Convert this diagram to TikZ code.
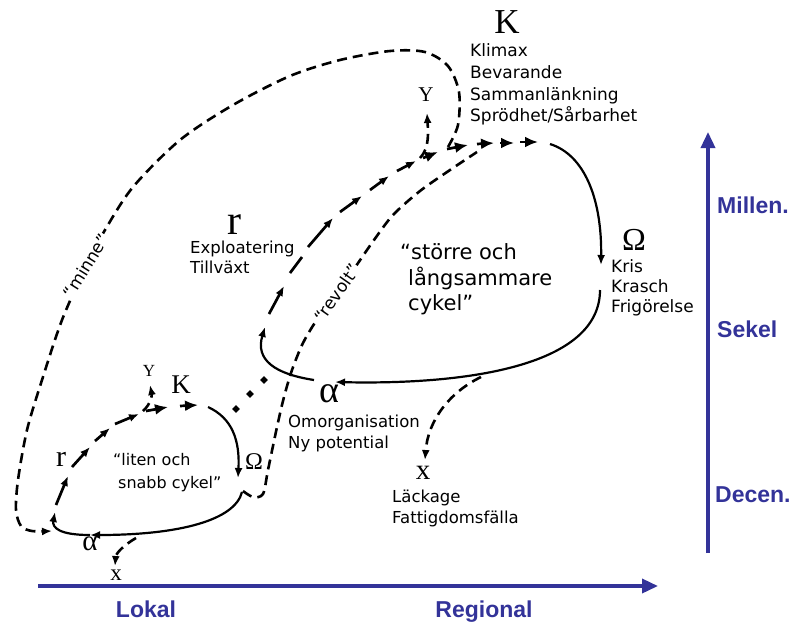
\documentclass[tikz,border=0pt]{standalone}
\usepackage{fontspec}
\setmainfont{DejaVu Sans}
\newfontfamily\serfont{Liberation Serif}
\newfontfamily\axfont{Liberation Sans}
\usetikzlibrary{arrows.meta,shapes.geometric}
\definecolor{axisblue}{RGB}{51,51,153}
\tikzset{
  sol/.style={line width=2.2pt},
  dsh/.style={line width=2.6pt, dash pattern=on 10pt off 6pt},
  seg/.style={line width=2.7pt},
  tp/.style={-{Latex[length=10pt,width=8pt]}},
  btp/.style={-{Latex[length=13pt,width=11pt]}},
  lbl/.style={inner sep=0pt, anchor=mid west, font=\fontsize{16.5}{18}\selectfont},
  klbl/.style={inner sep=0pt, anchor=mid west, font=\fontsize{17}{19}\selectfont},
  big/.style={inner sep=0pt, anchor=mid west, font=\fontsize{21}{24}\selectfont},
  sml/.style={inner sep=0pt, anchor=mid west, font=\fontsize{16}{18}\selectfont},
  rot/.style={inner sep=1pt, fill=white, anchor=center, font=\fontsize{17}{19}\selectfont},
  ser/.style={inner sep=0pt, font=\serfont},
  ax/.style={line width=3.5pt, draw=axisblue, -{Triangle[length=16pt,width=14pt]}},
  axl/.style={inner sep=0pt, text=axisblue, font=\axfont\bfseries\fontsize{23}{26}\selectfont},
  dot/.style={diamond, fill=black, inner sep=0pt, minimum size=8pt}
}
\begin{document}
\begin{tikzpicture}[x=1pt,y=-1pt]
\useasboundingbox (0,0) rectangle (793,625);
% axes
\coordinate (h0) at (38,586); \coordinate (h1) at (658,586);
\coordinate (v0) at (708,553); \coordinate (v1) at (708,132);
\draw[ax] (h0) -- (h1);
\draw[ax] (v0) -- (v1);
\node[axl] (lokal) at (146,609) {Lokal};
\node[axl] (regional) at (484,612) {Regional};
\node[axl, anchor=mid west] (millen) at (717,211) {Millen.};
\node[axl, anchor=mid west] (sekel) at (717,335) {Sekel};
\node[axl, anchor=mid west] (decen) at (715,500) {Decen.};

% ---------- big cycle ----------
\node[ser, font=\serfont\fontsize{35}{35}\selectfont] (bK) at (507,22) {K};
\node[klbl] (klimax) at (470,54) {Klimax};
\node[klbl] (bevar) at (470,76) {Bevarande};
\node[klbl] (samman) at (470,98) {Sammanlänkning};
\node[klbl] (sprod) at (470,119) {Sprödhet/Sårbarhet};
\node[ser, font=\serfont\fontsize{32}{32}\selectfont] (bO) at (634,240) {Ω};
\node[klbl] (kris) at (611,270) {Kris};
\node[klbl] (krasch) at (611,290) {Krasch};
\node[klbl] (frig) at (611,310) {Frigörelse};
\node[ser, font=\serfont\fontsize{42}{42}\selectfont] (br) at (234,225) {r};
\node[lbl] (explo) at (190,251) {Exploatering};
\node[lbl] (tillv) at (190,271) {Tillväxt};
\node[ser, font=\serfont\fontsize{38}{38}\selectfont] (ba) at (329,394) {α};
\node[lbl] (omorg) at (288,425) {Omorganisation};
\node[lbl] (nypot) at (288,446) {Ny potential};
\node[ser, font=\serfont\fontsize{29}{29}\selectfont] (bx) at (423,473) {x};
\node[lbl] (lack) at (392,500) {Läckage};
\node[lbl] (fatt) at (392,521) {Fattigdomsfälla};
\node[ser, font=\serfont\fontsize{21}{21}\selectfont] (bY) at (426,95) {Y};
\node[big] (s1) at (400,257) {\char"201Cstörre och};
\node[big] (s2) at (408,283) {långsammare};
\node[big] (s3) at (408,308) {cykel\char"201D};

% solid parts of big cycle
\coordinate (a1) at (314,380); \coordinate (a2) at (265,327);
\draw[sol,tp] (a1) .. controls (275,374) and (255,360) .. (a2);
\coordinate (k1) at (550,144); \coordinate (k2) at (601,265);
\draw[sol,tp] (k1) .. controls (585,155) and (602,200) .. (k2);
\coordinate (o1) at (600,290); \coordinate (o2) at (335,382);
\draw[sol,tp] (o1) .. controls (600,365) and (470,385) .. (o2);
% r -> K growth dashes
\foreach \sx/\sy/\ex/\ey/\st in {
  269/314/284/286/tp, 290/273/302/257/, 308/247/333/218/tp,
  340/212/362/196/tp, 370/190/389/176/tp, 397/171/416/161/tp,
  423/158/438/152/btp, 447/149/468/145/btp, 477/144/494/143/btp,
  500/143/514/143/btp, 520/142/538/142/btp}{
  \coordinate (gs) at (\sx,\sy); \coordinate (ge) at (\ex,\ey);
  \draw[seg,\st] (gs) -- (ge);
}

% ---------- small cycle ----------
\node[ser, font=\serfont\fontsize{27}{27}\selectfont] (sK) at (181,385) {K};
\node[ser, font=\serfont\fontsize{17}{17}\selectfont] (sY) at (149,371) {Y};
\node[ser, font=\serfont\fontsize{30}{30}\selectfont] (sr) at (61,459) {r};
\node[ser, font=\serfont\fontsize{24}{24}\selectfont] (sO) at (254,462) {Ω};
\node[ser, font=\serfont\fontsize{29}{29}\selectfont] (sa) at (90,544) {α};
\node[ser, font=\serfont\fontsize{23}{23}\selectfont] (sx) at (116,575) {x};
\node[sml] (l1) at (113,463) {\char"201Cliten och};
\node[sml] (l2) at (118,486) {snabb cykel\char"201D};

\coordinate (c1) at (242,492); \coordinate (c2) at (90,535);
\draw[sol,tp] (c1) .. controls (235,520) and (180,535) .. (c2);
\coordinate (c3) at (55,512);
\draw[sol,tp] (c2) .. controls (60,535) and (52,528) .. (c3);
\coordinate (d1) at (208,407); \coordinate (d2) at (238,478);
\draw[sol,tp] (d1) .. controls (232,418) and (240,440) .. (d2);
\foreach \sx/\sy/\ex/\ey/\st in {
  56/505/68/476/tp, 72/467/90/447/tp, 95/441/110/428/tp,
  115/424/139/414/tp, 146/411/168/407/btp, 180/406/198/405/btp}{
  \coordinate (gs) at (\sx,\sy); \coordinate (ge) at (\ex,\ey);
  \draw[seg,\st] (gs) -- (ge);
}

% dotted link
\node[dot] (p1) at (236,409) {};
\node[dot] (p2) at (250,394) {};
\node[dot] (p3) at (264,380) {};

% ---------- dashed connections ----------
% revolt
\draw[dsh] plot[smooth] coordinates {(243,491) (253,497) (263,494) (268,470) (277,427) (284,397) (292,370) (303,343) (318,318) (337,293) (356,266) (374,240) (393,215) (420,191) (450,170) (477,152)};
% minne
\draw[dsh,tp] plot[smooth] coordinates {(448,147) (458,125) (459,92) (448,66) (425,52) (390,51) (340,60) (290,76) (233,105) (180,140) (133,187) (105,230) (86,266) (62,320) (42,380) (27,430) (18,480) (16,510) (21,526) (32,531) (52,531)};
\node[rot, rotate=55] (revolt) at (337,293) {\char"201Crevolt\char"201D};
\node[rot, rotate=58] (minne) at (86,266) {\char"201Cminne\char"201D};
% Y branches
\coordinate (y1) at (420,158); \coordinate (y2) at (427,113);
\draw[dsh,tp] (y1) .. controls (430,148) and (428,130) .. (y2);
\coordinate (y3) at (143,411); \coordinate (y4) at (150,385);
\draw[dsh,tp] (y3) .. controls (151,404) and (152,395) .. (y4);
% x branches
\coordinate (x1) at (136,538); \coordinate (x2) at (115,566);
\draw[dsh,tp] (x1) .. controls (124,545) and (116,553) .. (x2);
\coordinate (x3) at (481,377); \coordinate (x4) at (425,460);
\draw[dsh,tp] (x3) .. controls (450,392) and (428,420) .. (x4);
\end{tikzpicture}
\end{document}
